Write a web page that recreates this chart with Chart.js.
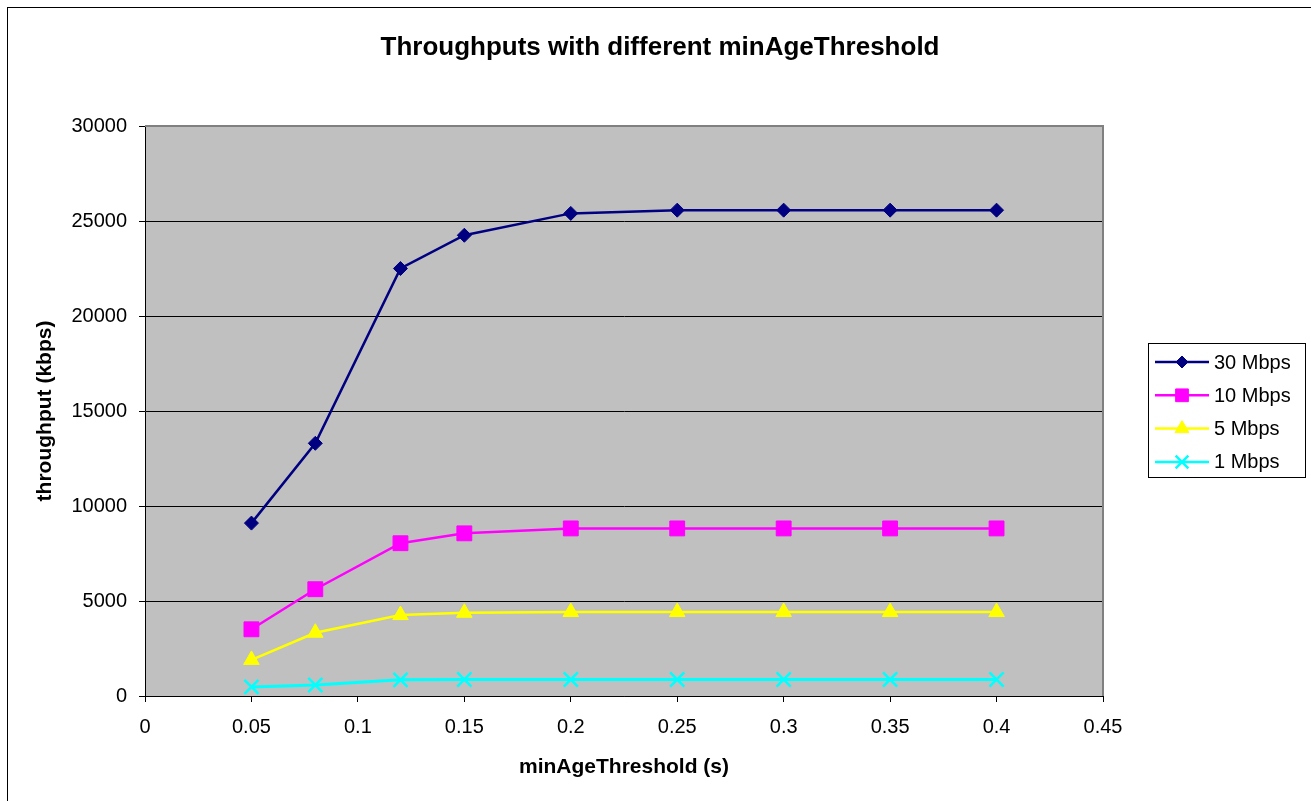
<!DOCTYPE html>
<html>
<head>
<meta charset="utf-8">
<title>Throughputs with different minAgeThreshold</title>
<script src="https://cdn.jsdelivr.net/npm/chart.js@4/dist/chart.umd.min.js"></script>
<style>
  html, body { margin: 0; padding: 0; background: #fff; }
  #wrap { width: 1311px; height: 801px; position: relative; }
</style>
</head>
<body>
<div id="wrap"><canvas id="grafico"></canvas></div>
<script>
// datos
const thresholds = [0.05, 0.08, 0.12, 0.15, 0.2, 0.25, 0.3, 0.35, 0.4];
const serie30 = [9100, 13300, 22500, 24250, 25400, 25570, 25570, 25570, 25570];
const serie10 = [3510, 5620, 8040, 8560, 8820, 8820, 8820, 8820, 8820];
const serie5 = [1900, 3330, 4260, 4380, 4420, 4420, 4420, 4420, 4420];
const serie1 = [480, 580, 850, 870, 870, 870, 870, 870, 870];
const seriesNames = ["30 Mbps", "10 Mbps", "5 Mbps", "1 Mbps"];
const xTicks = [0, 0.05, 0.1, 0.15, 0.2, 0.25, 0.3, 0.35, 0.4, 0.45];
const yTicks = [0, 5000, 10000, 15000, 20000, 25000, 30000];
const titulo = "Throughputs with different minAgeThreshold";

const FONT = "'Liberation Sans', Arial, sans-serif";

const toPoints = (vals) => thresholds.map((x, i) => ({ x, y: vals[i] }));

const estilos = [
  { color: "#000080", style: "rectRot", radius: 7, bw: 1, lw: 2.5 },
  { color: "#FF00FF", style: "rect", radius: 10.5, bw: 1, lw: 2.5 },
  { color: "#FFFF00", style: "triangle", radius: 9, bw: 1, lw: 2.5 },
  { color: "#00FFFF", style: "crossRot", radius: 10, bw: 2.5, lw: 3 },
];

const valores = [serie30, serie10, serie5, serie1];

const datasets = valores.map((vals, i) => ({
  label: seriesNames[i],
  data: toPoints(vals),
  borderColor: estilos[i].color,
  backgroundColor: estilos[i].color,
  borderWidth: estilos[i].lw,
  tension: 0,
  pointStyle: estilos[i].style,
  pointRadius: estilos[i].radius,
  pointBorderWidth: estilos[i].bw,
  pointBackgroundColor: estilos[i].color,
  pointBorderColor: estilos[i].color,
}));

/* ---------------------------------------------------
   plugins: fondo del area, borde, titulo, leyenda
--------------------------------------------------- */
const fondoArea = {
  id: "fondoArea",
  beforeDraw(chart) {
    const { ctx, chartArea: a } = chart;
    ctx.save();
    ctx.fillStyle = "#fff";
    ctx.fillRect(0, 0, chart.width, chart.height);
    ctx.fillStyle = "#C0C0C0";
    ctx.fillRect(a.left, a.top, a.right - a.left, a.bottom - a.top);
    // marco exterior
    ctx.strokeStyle = "#000";
    ctx.lineWidth = 1;
    ctx.strokeRect(7.5, 7.5, chart.width + 10, chart.height + 10);
    // titulo
    ctx.fillStyle = "#000";
    ctx.font = "bold 26px " + FONT;
    ctx.textAlign = "center";
    ctx.textBaseline = "alphabetic";
    ctx.fillText(titulo, 660, 55);
    ctx.restore();
  },
  beforeDatasetsDraw(chart) {
    const { ctx, chartArea: a } = chart;
    ctx.save();
    ctx.strokeStyle = "#808080";
    ctx.lineWidth = 2;
    ctx.beginPath();
    ctx.moveTo(a.left, a.top);
    ctx.lineTo(a.right, a.top);
    ctx.lineTo(a.right, a.bottom);
    ctx.stroke();
    ctx.restore();
  },
};

const leyenda = {
  id: "leyenda",
  afterDraw(chart) {
    const ctx = chart.ctx;
    const box = { x: 1148.5, y: 343.5, w: 157, h: 134 };
    ctx.save();
    ctx.fillStyle = "#fff";
    ctx.fillRect(box.x, box.y, box.w, box.h);
    ctx.strokeStyle = "#000";
    ctx.lineWidth = 1;
    ctx.strokeRect(box.x, box.y, box.w, box.h);
    chart.data.datasets.forEach((ds, i) => {
      const y = 362 + i * 33.3;
      ctx.strokeStyle = ds.borderColor;
      ctx.lineWidth = 2.5;
      ctx.beginPath();
      ctx.moveTo(1155, y);
      ctx.lineTo(1209, y);
      ctx.stroke();
      ctx.fillStyle = ds.pointBackgroundColor;
      ctx.strokeStyle = ds.pointBorderColor;
      ctx.lineWidth = ds.pointBorderWidth;
      Chart.helpers.drawPoint(ctx, {
        pointStyle: ds.pointStyle,
        radius: ds.pointStyle === "rect" ? 9 : ds.pointRadius - 1,
        rotation: 0,
        borderWidth: ds.pointBorderWidth,
      }, 1182, y);
      ctx.fillStyle = "#000";
      ctx.font = "20px " + FONT;
      ctx.textBaseline = "middle";
      ctx.textAlign = "left";
      ctx.fillText(ds.label, 1214, y + 1);
    });
    ctx.restore();
  },
};

const grafico = new Chart(document.getElementById("grafico"), {
  type: "line",
  data: { datasets },
  plugins: [fondoArea, leyenda],
  options: {
    responsive: true,
    maintainAspectRatio: false,
    animation: false,
    layout: { padding: { left: 30, right: 208, top: 126, bottom: 21 } },
    plugins: {
      legend: { display: false },
      tooltip: { enabled: false },
      title: { display: false },
    },
    scales: {
      x: {
        type: "linear",
        min: 0,
        max: 0.45,
        afterBuildTicks: (s) => { s.ticks = xTicks.map((v) => ({ value: v })); },
        afterFit: (s) => { s.height = 84; },
        ticks: {
          color: "#000",
          font: { family: FONT, size: 20 },
          padding: 13,
          maxRotation: 0,
          callback: (v) => String(+v.toFixed(2)),
        },
        grid: { drawOnChartArea: false, drawTicks: true, tickLength: 6, tickColor: "#000" },
        border: { color: "#000", width: 1 },
        title: {
          display: true,
          text: "minAgeThreshold (s)",
          color: "#000",
          font: { family: FONT, size: 21, weight: "bold", lineHeight: 1.2 },
          padding: 0,
        },
      },
      y: {
        min: 0,
        max: 30000,
        afterBuildTicks: (s) => { s.ticks = yTicks.map((v) => ({ value: v })); },
        afterFit: (s) => { s.width = 115; },
        ticks: {
          color: "#000",
          font: { family: FONT, size: 20 },
          padding: 12,
          callback: (v) => String(v),
        },
        grid: { color: "#000", lineWidth: 1, drawTicks: true, tickLength: 6, tickColor: "#000" },
        border: { color: "#000", width: 1 },
        title: {
          display: true,
          text: "throughput (kbps)",
          color: "#000",
          font: { family: FONT, size: 21, weight: "bold", lineHeight: 1.2 },
          padding: { top: 3, bottom: 0 },
        },
      },
    },
  },
});
</script>
</body>
</html>
